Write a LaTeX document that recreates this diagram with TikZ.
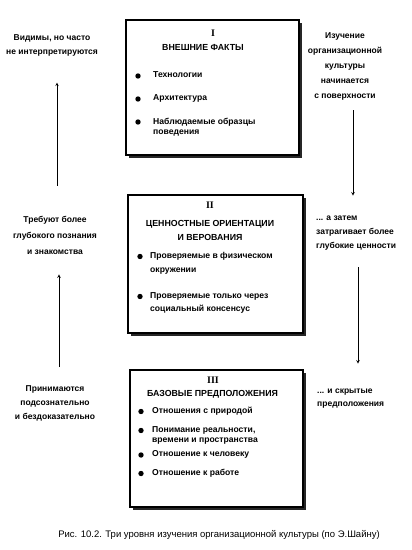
\documentclass[tikz,border=0pt]{standalone}
\usepackage{fontspec}
\setmainfont{Liberation Sans}
\newfontfamily\numfont{Liberation Serif}
\usetikzlibrary{shadows}

\begin{document}
\begin{tikzpicture}[>=stealth,x=1pt,y=-1pt,
    box/.style={draw,line width=1.1pt,fill=white,
      drop shadow={shadow xshift=2.5pt,shadow yshift=-2.5pt,opacity=1,fill=black!85}},
    side/.style={inner sep=0,font=\bfseries\fontsize{8.5}{14}\selectfont},
    item/.style={anchor=north west,inner sep=0,align=left,font=\bfseries\fontsize{8.6}{10.5}\selectfont},
    head/.style={inner sep=0,align=center,font=\bfseries\fontsize{8.8}{14}\selectfont},
    num/.style={inner sep=0,font=\numfont\bfseries\fontsize{10}{12}\selectfont}]
  \useasboundingbox (0,0) rectangle (412,550);
  \draw[box] (126,20) rectangle (299,155);
  \draw[box] (128,195) rectangle (303,333);
  \draw[box] (130,370) rectangle (303,507);
  \node[num] (n1) at (213,33) {I};
  \node[head] (h1) at (203,47) {ВНЕШНИЕ ФАКТЫ};
  \foreach \y/\t in {76/Технологии,99/Архитектура,122/{Наблюдаемые образцы\\поведения}} {
    \fill (138,\y) circle (2.7);
    \node[item] (a\y) at (153,\y-4.3) {\t};
  }
  \node[num] (n2) at (210,205) {II};
  \node[head] (h2) at (210,230) {ЦЕННОСТНЫЕ ОРИЕНТАЦИИ\\И ВЕРОВАНИЯ};
  \foreach \y/\t in {256.5/{Проверяемые в физическом\\окружении},296.5/{Проверяемые только через\\социальный консенсус}} {
    \fill (140,\y) circle (2.7);
    \node[item,font=\bfseries\fontsize{8.6}{13.5}\selectfont] (b\y) at (150,\y-4.3) {\t};
  }
  \node[num] (n3) at (213,380) {III};
  \node[head] (h3) at (212.5,394) {БАЗОВЫЕ ПРЕДПОЛОЖЕНИЯ};
  \foreach \y/\t in {411.5/Отношения с природой,430.5/{Понимание реальности,\\времени и пространства},455/Отношение к человеку,473.5/Отношение к работе} {
    \fill (141,\y) circle (2.7);
    \node[item] (c\y) at (152,\y-4.3) {\t};
  }
  \node[side,align=center] (lt1) at (52,45) {Видимы, но часто\\не интерпретируются};
  \node[side,align=center,font=\bfseries\fontsize{8.5}{16}\selectfont] (lt2) at (55,235) {Требуют более\\глубокого познания\\и знакомства};
  \node[side,align=center] (lt3) at (55,403) {Принимаются\\подсознательно\\и бездоказательно};
  \node[side,align=center,font=\bfseries\fontsize{8.5}{15}\selectfont] (rt1) at (345,66) {Изучение\\организационной\\культуры\\начинается\\с поверхности};
  \node[side,align=left,anchor=west] (rt2) at (316,233) {... а затем\\затрагивает более\\глубокие ценности};
  \node[side,align=left,anchor=west,font=\bfseries\fontsize{8.5}{13}\selectfont] (rt3) at (317,398.5) {... и скрытые\\предположения};
  \draw[->,semithick,shorten <=30pt,shorten >=26.5pt] ([xshift=2pt]lt2.north) -- ([xshift=5pt]lt1.south);
  \draw[->,semithick,shorten <=18pt,shorten >=20pt] ([xshift=4pt]lt3.north) -- ([xshift=4pt]lt2.south);
  \draw[->,semithick,shorten <=10pt,shorten >=20pt] ([xshift=8pt]rt1.south) -- ([xshift=37pt]rt2.north west);
  \draw[->,semithick,shorten <=17pt,shorten >=25pt] ([xshift=42pt]rt2.south west) -- ([xshift=41pt]rt3.north west);
  \node[inner sep=0,font=\fontsize{9.5}{12}\selectfont] (cap) at (219,535) {Рис. 10.2. Три уровня изучения организационной культуры (по Э.Шайну)};
\end{tikzpicture}
\end{document}
